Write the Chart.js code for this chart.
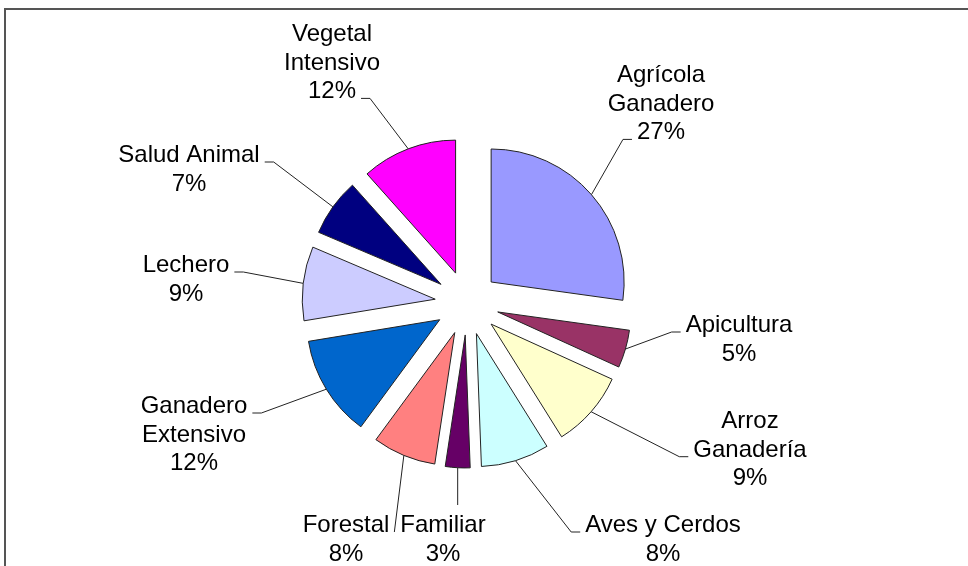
<!DOCTYPE html>
<html>
<head>
<meta charset="utf-8">
<script src="https://cdn.jsdelivr.net/npm/chart.js@4.4.0/dist/chart.umd.min.js"></script>
<style>
  body { margin: 0; background: #fff; }
  #wrap { position: relative; width: 968px; height: 566px; overflow: hidden; background: #fff; }
  #frame { position: absolute; left: 4px; top: 8px; width: 1000px; height: 600px;
           border-top: 2px solid #555; border-left: 2px solid #555; }
  canvas { position: absolute; left: 0; top: 0; }
</style>
</head>
<body>
<div id="wrap">
  <div id="frame"></div>
  <canvas id="pie" width="968" height="566"></canvas>
</div>
<script>
// slices, clockwise from 12 o'clock (label lines, % is added later)
const sectors = [
  ['Agrícola', 'Ganadero'],
  ['Apicultura'],
  ['Arroz', 'Ganadería'],
  ['Aves y Cerdos'],
  ['Familiar'],
  ['Forestal'],
  ['Ganadero', 'Extensivo'],
  ['Lechero'],
  ['Salud Animal'],
  ['Vegetal', 'Intensivo']
];
const shares = [27.2, 4.6, 9.3, 8.3, 3.0, 7.7, 12.3, 9.0, 7.0, 11.6];
const sliceColors = ['#9999FF', '#993366', '#FFFFCC', '#CCFFFF', '#660066',
                     '#FF8080', '#0066CC', '#CCCCFF', '#000080', '#FF00FF'];

// label placement: text centre x, first baseline y, side the leader comes in, line it meets
const labelX = [661, 739, 750, 663, 443, 346, 194, 186, 189, 332];
const labelY = [82, 332, 428, 532, 532, 532, 413, 272, 162, 41];
const leaderSide = ['left', 'left', 'left', 'left', 'top', 'right', 'right', 'right', 'right', 'right'];
const leaderLine = [2, 0, 1, 0, 0, 0, 0, 0, 0, 2];
const leaderTick = [9, 9, 9, 9, 0, 0, 9, 9, 9, 9];

const explode = 32;   // how far every slice is pulled out
const lineH = 28.7;
const labelFont = '24px "Liberation Sans", Arial, sans-serif';

function slice_point(arc, r) {
  const mid = (arc.startAngle + arc.endAngle) / 2;
  return {x: arc.x + Math.cos(mid) * (explode + r),
          y: arc.y + Math.sin(mid) * (explode + r)};
}

// draw every arc moved out along its bisector
const explodePlugin = {
  id: 'explode',
  beforeDatasetDraw(chart, args) {
    const ctx = chart.ctx;
    args.meta.data.forEach(function(arc) {
      const mid = (arc.startAngle + arc.endAngle) / 2;
      ctx.save();
      ctx.translate(Math.cos(mid) * explode, Math.sin(mid) * explode);
      arc.draw(ctx);
      ctx.restore();
    });
    return false;
  }
};

// excel style labels with leader lines
const labelPlugin = {
  id: 'sliceLabels',
  afterDatasetsDraw(chart) {
    const ctx = chart.ctx;
    const arcs = chart.getDatasetMeta(0).data;
    const total = shares.reduce((a, b) => a + b, 0);
    ctx.save();
    ctx.font = labelFont;
    ctx.fillStyle = '#000';
    ctx.textAlign = 'center';
    ctx.textBaseline = 'alphabetic';
    ctx.strokeStyle = '#222';
    ctx.lineWidth = 1;
    for (let i = 0; i < arcs.length; i++) {
      const lines = sectors[i].concat([Math.round(shares[i] / total * 100) + '%']);
      const x = labelX[i], y = labelY[i];
      lines.forEach(function(t, k) { ctx.fillText(t, x, y + k * lineH); });

      const a = slice_point(arcs[i], arcs[i].outerRadius);
      const by = y + leaderLine[i] * lineH;
      const w = ctx.measureText(lines[leaderLine[i]]).width;
      const gap = 5;
      let x1, x2, yy;
      if (leaderSide[i] == 'left') {
        x2 = x - w / 2 - gap;
        x1 = x2 - leaderTick[i];
        yy = by;
      } else if (leaderSide[i] == 'right') {
        x2 = x + w / 2 + gap;
        x1 = x2 + leaderTick[i];
        yy = by;
      } else {
        x1 = x2 = a.x;
        yy = y - 27;
      }
      ctx.beginPath();
      ctx.moveTo(a.x, a.y);
      ctx.lineTo(x1, yy);
      ctx.lineTo(x2, yy);
      ctx.stroke();
    }
    ctx.restore();
  }
};

const data = {
  labels: sectors.map(s => s.join(' ')),
  datasets: [{
    data: shares,
    backgroundColor: sliceColors,
    borderColor: '#222',
    borderWidth: 1,
    offset: 0,
    hoverOffset: 0
  }]
};

const options = {
  responsive: false,
  animation: false,
  radius: 133,
  layout: { padding: { left: 100, right: 134, top: 120, bottom: 80 } },
  plugins: {
    legend: { display: false },
    tooltip: { enabled: false }
  },
  events: []
};

const ctx = document.getElementById('pie').getContext('2d');
myChart = new Chart(ctx, {
  type: 'pie',
  data: data,
  options: options,
  plugins: [explodePlugin, labelPlugin]
});
</script>
</body>
</html>
